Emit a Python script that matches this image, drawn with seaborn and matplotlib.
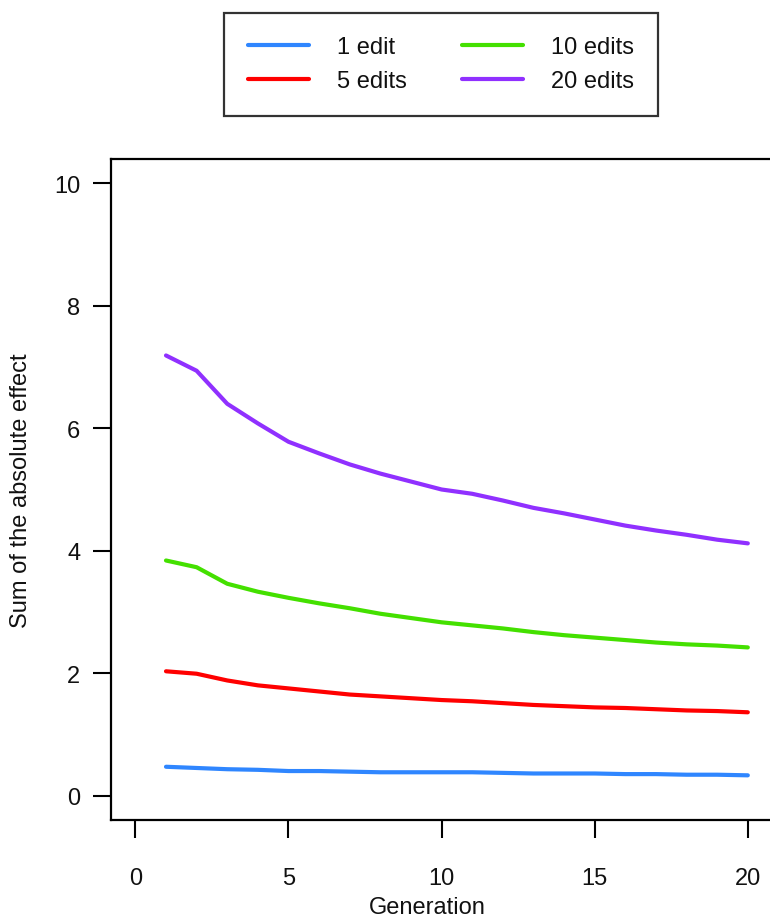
import pandas as pd
import matplotlib
matplotlib.use("Agg")
import matplotlib.pyplot as plt
import seaborn as sns

# ===============================
# Data
# ===============================
generation = list(range(1, 21))

edits_1 = [0.47, 0.45, 0.43, 0.42, 0.40, 0.40, 0.39, 0.38, 0.38, 0.38,
           0.38, 0.37, 0.36, 0.36, 0.36, 0.35, 0.35, 0.34, 0.34, 0.33]
edits_5 = [2.03, 1.99, 1.88, 1.80, 1.75, 1.70, 1.65, 1.62, 1.59, 1.56,
           1.54, 1.51, 1.48, 1.46, 1.44, 1.43, 1.41, 1.39, 1.38, 1.36]
edits_10 = [3.84, 3.73, 3.46, 3.33, 3.23, 3.14, 3.06, 2.97, 2.90, 2.83,
            2.78, 2.73, 2.67, 2.62, 2.58, 2.54, 2.50, 2.47, 2.45, 2.42]
edits_20 = [7.19, 6.94, 6.40, 6.08, 5.78, 5.59, 5.41, 5.26, 5.13, 5.00,
            4.93, 4.82, 4.70, 4.61, 4.51, 4.41, 4.33, 4.26, 4.18, 4.12]

labels = ["1 edit", "5 edits", "10 edits", "20 edits"]
colors = ["#2f86ff", "#ff0000", "#44e000", "#9030ff"]
y_ticks = [0, 2, 4, 6, 8, 10]
x_ticks = [0, 5, 10, 15, 20]

df = pd.DataFrame({
    "Generation": generation * 4,
    "value": edits_1 + edits_5 + edits_10 + edits_20,
    "series": sum([[lab] * len(generation) for lab in labels], []),
})

# ===============================
# Plot
# ===============================
sns.set_style("white")
plt.rcParams["font.family"] = ["Liberation Sans", "DejaVu Sans"]

fig = plt.figure(figsize=(7.7, 9.2), dpi=100)
ax = fig.add_axes([0.144, 0.1076, 0.859, 0.7185])

sns.lineplot(data=df, x="Generation", y="value", hue="series",
             hue_order=labels, palette=colors, linewidth=3, ax=ax,
             legend=False)

ax.set_xlim(-0.8, 20.8)
ax.set_ylim(-0.4, 10.4)
ax.set_xticks(x_ticks)
ax.set_yticks(y_ticks)
ax.tick_params(axis="both", direction="out", length=13, width=1.5,
               color="black", labelsize=17, labelcolor="#111111",
               bottom=True, left=True)
ax.tick_params(axis="x", pad=21)
ax.tick_params(axis="y", pad=9)
for sp in ax.spines.values():
    sp.set_color("black")
    sp.set_linewidth(1.6)

ax.set_xlabel("Generation", fontsize=17, color="#111111")
ax.set_ylabel("Sum of the absolute effect", fontsize=17, color="#111111")
ax.xaxis.set_label_coords(0.478, -0.115)
ax.yaxis.set_label_coords(-0.12, 0.5)

handles = [plt.Line2D([], [], color=c, linewidth=3) for c in colors]
# column order: 1 edit / 5 edits on the left, 10 / 20 edits on the right
leg = fig.legend(handles, labels, ncol=2, loc="center",
                 bbox_to_anchor=(0.5727, 0.9293), fontsize=17,
                 frameon=True, fancybox=False, borderpad=1.0,
                 handlelength=2.6, handletextpad=1.2, columnspacing=2.3,
                 labelspacing=0.5)
leg.get_frame().set_edgecolor("black")
leg.get_frame().set_linewidth(1.6)
for t in leg.get_texts():
    t.set_color("#111111")

fig.savefig("out.png", dpi=100)
